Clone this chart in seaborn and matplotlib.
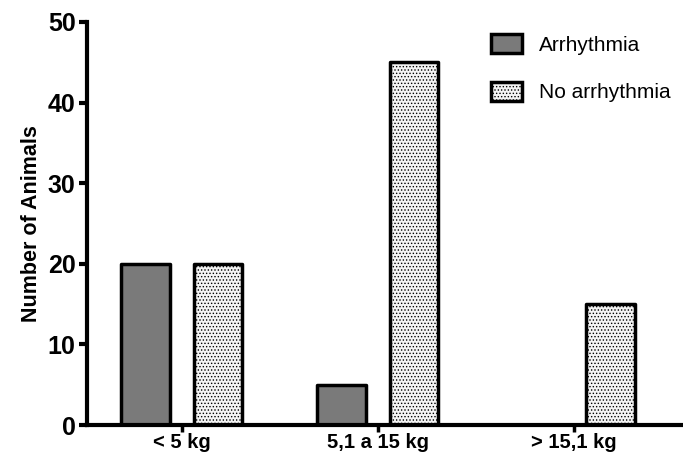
import pandas as pd
import numpy as np
import matplotlib
matplotlib.use('Agg')
import matplotlib.pyplot as plt
import seaborn as sns
from matplotlib.patches import Patch

# 数据
categories = ['< 5 kg', '5,1 a 15 kg', '> 15,1 kg']
groups = ['Arrhythmia', 'No arrhythmia']
arrhythmia = [20, 5, 0]
no_arrhythmia = [20, 45, 15]

df = pd.DataFrame({
    'weight': categories * 2,
    'group': [groups[0]] * 3 + [groups[1]] * 3,
    'count': arrhythmia + no_arrhythmia,
})

sns.set_style('ticks', rc={'axes.edgecolor': 'black', 'text.color': 'black',
                           'axes.labelcolor': 'black', 'xtick.color': 'black',
                           'ytick.color': 'black'})
plt.rcParams['font.family'] = ['Liberation Sans', 'DejaVu Sans']
plt.rcParams['hatch.linewidth'] = 0.6

fig = plt.figure(figsize=(6.83, 4.58), dpi=100)
ax = fig.add_axes([0.127, 0.072, 0.873, 0.88])

sns.barplot(data=df, x='weight', y='count', hue='group', order=categories,
            hue_order=groups, palette=['#7a7a7a', '#f4f4f4'], width=0.74,
            gap=0.33, edgecolor='black', linewidth=2.5, legend=False, ax=ax)

# 第二组加点状填充
for bar in ax.containers[1]:
    bar.set_hatch('.....')
for cont in ax.containers:
    for bar in cont:
        bar.set_joinstyle('round')

ax.set_ylim(0, 50)
ax.set_xlim(-0.485, 2.556)
ax.set_yticks([0, 10, 20, 30, 40, 50])
ax.set_xlabel('')
ax.set_ylabel('Number of Animals', fontsize=15.5, fontweight='bold', labelpad=4)

sns.despine(ax=ax)
ax.spines['left'].set_linewidth(3)
ax.spines['bottom'].set_linewidth(3)
ax.tick_params(axis='y', width=3, length=6, labelsize=18, pad=2)
ax.tick_params(axis='x', width=2.5, length=5, labelsize=14.5, pad=1)
for lab in ax.get_yticklabels() + ax.get_xticklabels():
    lab.set_fontweight('bold')

handles = [Patch(facecolor='#7a7a7a', edgecolor='black', linewidth=2.5),
           Patch(facecolor='#f4f4f4', edgecolor='black', linewidth=2.5, hatch='.....')]
ax.legend(handles=handles, labels=groups, loc='upper right', frameon=False,
          fontsize=15, handlelength=1.5, handleheight=1.0, labelspacing=1.3,
          handletextpad=0.8, borderaxespad=0.2, bbox_to_anchor=(1.0, 1.0))

fig.savefig('out.png', dpi=100)
